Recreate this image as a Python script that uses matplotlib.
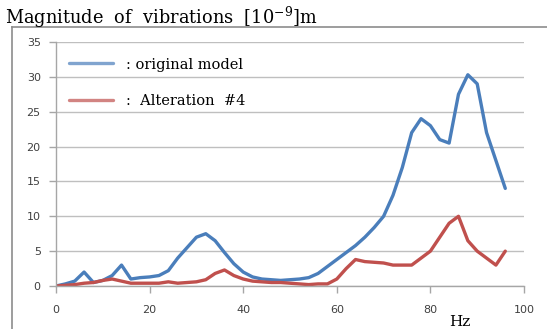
import matplotlib
matplotlib.use("Agg")
import matplotlib.pyplot as plt
from matplotlib.lines import Line2D

freq = [0, 2, 4, 6, 8, 10, 12, 14, 16, 18, 20, 22, 24, 26, 28, 30, 32, 34, 36, 38,
        40, 42, 44, 46, 48, 50, 52, 54, 56, 58, 60, 62, 64, 66, 68, 70, 72, 74, 76, 78,
        80, 82, 84, 86, 88, 90, 92, 94, 96]
original = [0, 0.3, 0.7, 2.0, 0.5, 0.8, 1.5, 3.0, 1.0, 1.2, 1.3, 1.5, 2.2, 4.0, 5.5, 7.0,
            7.5, 6.5, 4.8, 3.2, 2.0, 1.3, 1.0, 0.9, 0.8, 0.9, 1.0, 1.2, 1.8, 2.8, 3.8, 4.8,
            5.8, 7.0, 8.4, 10.0, 13.0, 17.0, 22.0, 24.0, 23.0, 21.0, 20.5, 27.5, 30.3, 29.0,
            22.0, 18.0, 14.0]
alteration = [0, 0.1, 0.2, 0.4, 0.5, 0.8, 1.0, 0.7, 0.4, 0.4, 0.4, 0.4, 0.6, 0.4, 0.5, 0.6,
              0.9, 1.8, 2.3, 1.5, 1.0, 0.7, 0.6, 0.5, 0.5, 0.4, 0.3, 0.2, 0.3, 0.3, 1.0, 2.5,
              3.8, 3.5, 3.4, 3.3, 3.0, 3.0, 3.0, 4.0, 5.0, 7.0, 9.0, 10.0, 6.5, 5.0, 4.0, 3.0, 5.0]
xticks = [0, 20, 40, 60, 80, 100]
yticks = [0, 5, 10, 15, 20, 25, 30, 35]
labels = [": original model", ":  Alteration  #4"]
title = "Magnitude  of  vibrations  [10$^{-9}$]m"
xlabel = "Hz"

plt.rcParams['mathtext.fontset'] = 'dejavuserif'
serif = 'DejaVu Serif'

fig = plt.figure(figsize=(5.47, 3.29), dpi=100)
W, H = 547, 329
ax = fig.add_axes([56 / W, 1 - 286 / H, (524 - 56) / W, (286 - 42) / H])

ax.plot(freq, original, color='#4A7EBB', lw=2.4, solid_capstyle='round', label=labels[0])
ax.plot(freq, alteration, color='#C0504D', lw=2.4, solid_capstyle='round', label=labels[1])

ax.set_xlim(0, 100)
ax.set_ylim(0, 35)
ax.set_xticks(xticks)
ax.set_yticks(yticks)
ax.grid(axis='y', color='#BFBFBF', lw=1)
ax.set_axisbelow(True)
for s in ['top', 'right']:
    ax.spines[s].set_visible(False)
for s in ['left', 'bottom']:
    ax.spines[s].set_color('#A6A6A6')
    ax.spines[s].set_linewidth(1)
ax.tick_params(axis='both', colors='#A6A6A6', length=5, width=1, labelsize=8,
               labelcolor='#404040')
ax.tick_params(axis='x', pad=9)
ax.tick_params(axis='y', pad=6)

leg = ax.legend(loc='upper left', bbox_to_anchor=(0.0, 0.99), frameon=False,
                prop={'family': serif, 'size': 10.5}, handlelength=3.0,
                handletextpad=0.9, labelspacing=1.55)
for h in leg.legend_handles:
    h.set_linewidth(2.4)
    h.set_alpha(0.7)

fig.text(5 / W, 1 - 24 / H, title, family=serif, fontsize=12.8, ha='left', va='baseline')
fig.text(460 / W, 1 - 326 / H, xlabel, family=serif, fontsize=11, ha='center', va='baseline')

fig.add_artist(Line2D([12 / W, 1], [1 - 27 / H, 1 - 27 / H], color='#8C8C8C', lw=1.2,
                      transform=fig.transFigure))
fig.add_artist(Line2D([12 / W, 12 / W], [0, 1 - 27 / H], color='#8C8C8C', lw=1.2,
                      transform=fig.transFigure))

fig.savefig('out.png', dpi=100)
